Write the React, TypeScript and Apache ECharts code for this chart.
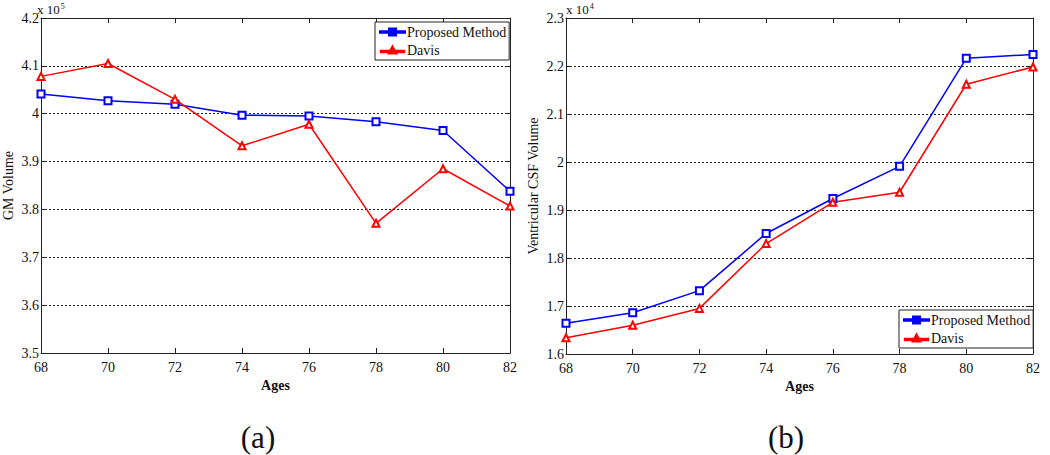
import React, { useEffect, useRef } from "react";
import * as echarts from "echarts";

const ages = [68, 70, 72, 74, 76, 78, 80, 82];
const gmProposed = [4.041, 4.027, 4.020, 3.997, 3.995, 3.983, 3.965, 3.838];
const gmDavis = [4.078, 4.105, 4.030, 3.933, 3.978, 3.771, 3.885, 3.807];
const csfProposed = [1.664, 1.686, 1.732, 1.851, 1.924, 1.991, 2.216, 2.224];
const csfDavis = [1.634, 1.660, 1.695, 1.830, 1.916, 1.937, 2.162, 2.198];
const seriesNames = ["Proposed Method", "Davis"];
const leftYName = "GM Volume";
const rightYName = "Ventricular CSF Volume";
const xName = "Ages";
const leftExp = "5";
const rightExp = "4";
const captions = ["(a)", "(b)"];

const FONT = "Liberation Serif";
const BLUE = "#0000ff";
const RED = "#ff0000";

export default function App() {
  const ref = useRef<HTMLDivElement>(null);
  useEffect(() => {
    if (!ref.current) return;
    const chart = echarts.init(ref.current, null, { renderer: "svg" });
    const fmt = (v: number) => String(parseFloat(v.toFixed(1)));
    const gridDefs = [
      { left: 37, top: 18, width: 473, height: 335 },
      { left: 566, top: 18, width: 467, height: 336 },
    ];
    const yRanges = [
      { min: 3.5, max: 4.2, name: leftYName, gap: 26 },
      { min: 1.6, max: 2.3, name: rightYName, gap: 26 },
    ];
    const xAxes: any[] = [];
    const yAxes: any[] = [];
    gridDefs.forEach((_, g) => {
      xAxes.push({
        type: "value",
        gridIndex: g,
        position: "bottom",
        min: 68,
        max: 82,
        interval: 2,
        name: xName,
        nameLocation: "middle",
        nameGap: 20,
        nameTextStyle: { fontFamily: FONT, fontSize: 14, color: "#111", fontWeight: "bold", verticalAlign: "top" },
        axisLine: { lineStyle: { color: "#222", width: 1 } },
        axisTick: { inside: true, length: 5, lineStyle: { color: "#222" } },
        axisLabel: { fontFamily: FONT, fontSize: 14, color: "#111", margin: 7 },
        splitLine: { show: false },
      });
      xAxes.push({
        type: "value",
        gridIndex: g,
        position: "top",
        min: 68,
        max: 82,
        interval: 2,
        axisLine: { lineStyle: { color: "#222", width: 1 } },
        axisTick: { inside: true, length: 5, lineStyle: { color: "#222" } },
        axisLabel: { show: false },
        splitLine: { show: false },
      });
      const r = yRanges[g];
      yAxes.push({
        type: "value",
        gridIndex: g,
        position: "left",
        min: r.min,
        max: r.max,
        interval: 0.1,
        name: r.name,
        nameLocation: "middle",
        nameGap: r.gap,
        nameTextStyle: { fontFamily: FONT, fontSize: 14, color: "#111" },
        axisLine: { lineStyle: { color: "#222", width: 1 } },
        axisTick: { inside: true, length: 5, lineStyle: { color: "#222" } },
        axisLabel: { fontFamily: FONT, fontSize: 14, color: "#111", margin: 2, formatter: fmt },
        splitLine: { show: true, lineStyle: { color: "#222", type: [2, 2], width: 1 } },
      });
      yAxes.push({
        type: "value",
        gridIndex: g,
        position: "right",
        min: r.min,
        max: r.max,
        interval: 0.1,
        axisLine: { lineStyle: { color: "#222", width: 1 } },
        axisTick: { inside: true, length: 5, lineStyle: { color: "#222" } },
        axisLabel: { show: false },
        splitLine: { show: false },
      });
    });
    const mk = (name: string, data: number[], color: string, sym: string, xi: number, yi: number) => ({
      type: "line",
      name,
      xAxisIndex: xi,
      yAxisIndex: yi,
      data: ages.map((a, i) => [a, data[i]]),
      symbol: sym,
      symbolSize: 7,
      showAllSymbol: true,
      lineStyle: { color, width: 1.5 },
      itemStyle: { color, borderColor: color, borderWidth: 1.5 },
      z: 3,
    });
    const legendBase = {
      orient: "vertical",
      data: [
        { name: seriesNames[0], icon: "path://M0,3h25v1.6h-25z M9,0.3h7v7h-7z" },
        { name: seriesNames[1], icon: "path://M0,4.6h25v1.6h-25z M8.5,7.5L12.5,0L16.5,7.5z" },
      ],
      itemWidth: 25,
      itemHeight: 7,
      itemGap: 4,
      padding: [3, 3, 3, 4],
      borderColor: "#222",
      borderWidth: 1,
      backgroundColor: "#fff",
      textStyle: { fontFamily: FONT, fontSize: 14, color: "#111", padding: [0, 0, 0, -3] },
      selectedMode: false,
    };
    chart.setOption({
      animation: false,
      backgroundColor: "#fff",
      grid: gridDefs,
      xAxis: xAxes,
      yAxis: yAxes,
      legend: [
        { ...legendBase, left: 375, top: 22 },
        { ...legendBase, left: 899, top: 310 },
      ],
      series: [
        mk(seriesNames[0], gmProposed, BLUE, "emptyRect", 0, 0),
        mk(seriesNames[1], gmDavis, RED, "emptyTriangle", 0, 0),
        mk(seriesNames[0], csfProposed, BLUE, "emptyRect", 2, 2),
        mk(seriesNames[1], csfDavis, RED, "emptyTriangle", 2, 2),
      ],
      graphic: [
        {
          type: "text",
          left: 37,
          top: 2,
          style: {
            text: "x 10{sup|" + leftExp + "}",
            fontFamily: FONT,
            fontSize: 13,
            fill: "#111",
            rich: { sup: { fontSize: 8, verticalAlign: "top", padding: [0, 0, 6, 1], fontFamily: FONT } },
          },
        },
        {
          type: "text",
          left: 566,
          top: 2,
          style: {
            text: "x 10{sup|" + rightExp + "}",
            fontFamily: FONT,
            fontSize: 13,
            fill: "#111",
            rich: { sup: { fontSize: 8, verticalAlign: "top", padding: [0, 0, 6, 1], fontFamily: FONT } },
          },
        },
        {
          type: "text",
          x: 258,
          y: 437,
          style: { text: captions[0], fontFamily: FONT, fontSize: 31, fill: "#111", align: "center", verticalAlign: "middle" },
        },
        {
          type: "text",
          x: 786,
          y: 437,
          style: { text: captions[1], fontFamily: FONT, fontSize: 31, fill: "#111", align: "center", verticalAlign: "middle" },
        },
      ],
    });
    return () => chart.dispose();
  }, []);
  return <div ref={ref} style={{ width: 1050, height: 455, position: "absolute", left: 0, top: 0 }} />;
}
